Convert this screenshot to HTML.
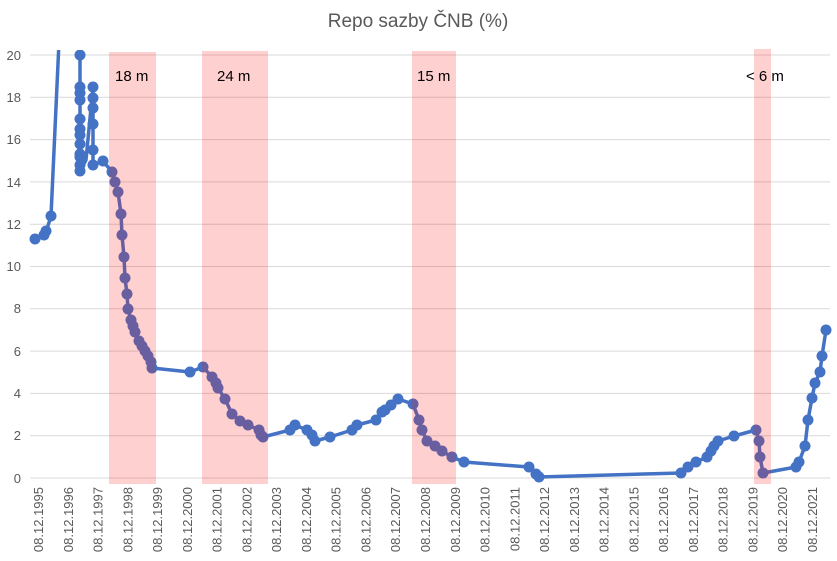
<!DOCTYPE html>
<html><head><meta charset="utf-8"><style>html,body{margin:0;padding:0;background:#fff}svg{display:block}</style></head><body>
<svg width="837" height="561" xmlns="http://www.w3.org/2000/svg" font-family="Liberation Sans, sans-serif">
<text x="418" y="27" text-anchor="middle" font-size="19" fill="#595959">Repo sazby ČNB (%)</text>
<g stroke="#d9d9d9" stroke-width="1">
<line x1="30" x2="830" y1="478" y2="478"/><line x1="30" x2="830" y1="435.7" y2="435.7"/><line x1="30" x2="830" y1="393.4" y2="393.4"/><line x1="30" x2="830" y1="351.1" y2="351.1"/><line x1="30" x2="830" y1="308.8" y2="308.8"/><line x1="30" x2="830" y1="266.5" y2="266.5"/><line x1="30" x2="830" y1="224.2" y2="224.2"/><line x1="30" x2="830" y1="181.9" y2="181.9"/><line x1="30" x2="830" y1="139.6" y2="139.6"/><line x1="30" x2="830" y1="97.3" y2="97.3"/><line x1="30" x2="830" y1="55" y2="55"/>
</g>
<g font-size="13" fill="#595959" text-anchor="end">
<text x="21" y="483">0</text><text x="21" y="440">2</text><text x="21" y="398">4</text><text x="21" y="356">6</text><text x="21" y="313">8</text><text x="21" y="271">10</text><text x="21" y="229">12</text><text x="21" y="187">14</text><text x="21" y="144">16</text><text x="21" y="102">18</text><text x="21" y="60">20</text>
</g>
<g font-size="13" fill="#595959" text-anchor="end" id="xl"></g>
<g font-size="13" fill="#595959" text-anchor="end">
<text transform="translate(43,487) rotate(-90)">08.12.1995</text>
<text transform="translate(72.8,487) rotate(-90)">08.12.1996</text>
<text transform="translate(102.5,487) rotate(-90)">08.12.1997</text>
<text transform="translate(132.3,487) rotate(-90)">08.12.1998</text>
<text transform="translate(162.1,487) rotate(-90)">08.12.1999</text>
<text transform="translate(191.9,487) rotate(-90)">08.12.2000</text>
<text transform="translate(221.6,487) rotate(-90)">08.12.2001</text>
<text transform="translate(251.4,487) rotate(-90)">08.12.2002</text>
<text transform="translate(281.2,487) rotate(-90)">08.12.2003</text>
<text transform="translate(310.9,487) rotate(-90)">08.12.2004</text>
<text transform="translate(340.7,487) rotate(-90)">08.12.2005</text>
<text transform="translate(370.5,487) rotate(-90)">08.12.2006</text>
<text transform="translate(400.2,487) rotate(-90)">08.12.2007</text>
<text transform="translate(430,487) rotate(-90)">08.12.2008</text>
<text transform="translate(459.8,487) rotate(-90)">08.12.2009</text>
<text transform="translate(489.6,487) rotate(-90)">08.12.2010</text>
<text transform="translate(519.3,487) rotate(-90)">08.12.2011</text>
<text transform="translate(549.1,487) rotate(-90)">08.12.2012</text>
<text transform="translate(578.9,487) rotate(-90)">08.12.2013</text>
<text transform="translate(608.6,487) rotate(-90)">08.12.2014</text>
<text transform="translate(638.4,487) rotate(-90)">08.12.2015</text>
<text transform="translate(668.2,487) rotate(-90)">08.12.2016</text>
<text transform="translate(697.9,487) rotate(-90)">08.12.2017</text>
<text transform="translate(727.7,487) rotate(-90)">08.12.2018</text>
<text transform="translate(757.5,487) rotate(-90)">08.12.2019</text>
<text transform="translate(787.2,487) rotate(-90)">08.12.2020</text>
<text transform="translate(817,487) rotate(-90)">08.12.2021</text>
</g>
<defs><clipPath id="c"><rect x="25" y="50" width="812" height="440"/></clipPath></defs>
<g clip-path="url(#c)">
<polyline fill="none" stroke="#4472C4" stroke-width="3.5" stroke-linejoin="round" points="35,239 44,235 46,231 47,229 51,216 60,20 78,20 80,55 80,87 80,93 80,100 80,119 80,129 80,135 80,144 80,154 80,157 80,165 80,171 86,160 93,87 93,98 93,108 93,124 93,150 93,165 103,161 112,172 115,182 118,192 121,214 122,235 124,257 125,278 127,294 128,309 131,320 133,326 135,332 139,341 142,346 145,351 148,356 151,362 152,368 190,372 203,367 212,377 216,383 218,388 225,399 232,414 240,421 248,425 259,430 261,435 263,437 290,430 295,425 307,430 312,435 315,441 330,437 352,430 357,425 376,420 382,412 385,410 391,405 398,399 413,404 419,420 422,430 427,441 435,446 442,451 452,457 464,462 529,467 536,474 539,477 681,473 688,467 696,462 707,457 711,451 714,446 718,441 734,436 756,430 759,441 760,457 763,473 796,467 799,462 805,446 808,420 812,398 815,383 820,372 822,356 826,330"/>
<g fill="#4472C4">
<circle cx="35" cy="239" r="5.5"/><circle cx="44" cy="235" r="5.5"/><circle cx="46" cy="231" r="5.5"/><circle cx="51" cy="216" r="5.5"/>
<circle cx="80" cy="55" r="5.5"/><circle cx="80" cy="87" r="5.5"/><circle cx="80" cy="93" r="5.5"/><circle cx="80" cy="100" r="5.5"/><circle cx="80" cy="119" r="5.5"/><circle cx="80" cy="129" r="5.5"/><circle cx="80" cy="135" r="5.5"/><circle cx="80" cy="144" r="5.5"/><circle cx="80" cy="154" r="5.5"/><circle cx="80" cy="157" r="5.5"/><circle cx="80" cy="165" r="5.5"/><circle cx="80" cy="171" r="5.5"/>
<circle cx="93" cy="87" r="5.5"/><circle cx="93" cy="98" r="5.5"/><circle cx="93" cy="108" r="5.5"/><circle cx="93" cy="124" r="5.5"/><circle cx="93" cy="150" r="5.5"/><circle cx="93" cy="165" r="5.5"/>
<circle cx="103" cy="161" r="5.5"/><circle cx="112" cy="172" r="5.5"/><circle cx="115" cy="182" r="5.5"/><circle cx="118" cy="192" r="5.5"/><circle cx="121" cy="214" r="5.5"/><circle cx="122" cy="235" r="5.5"/><circle cx="124" cy="257" r="5.5"/><circle cx="125" cy="278" r="5.5"/><circle cx="127" cy="294" r="5.5"/><circle cx="128" cy="309" r="5.5"/><circle cx="131" cy="320" r="5.5"/><circle cx="133" cy="326" r="5.5"/><circle cx="135" cy="332" r="5.5"/><circle cx="139" cy="341" r="5.5"/><circle cx="142" cy="346" r="5.5"/><circle cx="145" cy="351" r="5.5"/><circle cx="148" cy="356" r="5.5"/><circle cx="151" cy="362" r="5.5"/><circle cx="152" cy="368" r="5.5"/>
<circle cx="190" cy="372" r="5.5"/><circle cx="203" cy="367" r="5.5"/><circle cx="212" cy="377" r="5.5"/><circle cx="216" cy="383" r="5.5"/><circle cx="218" cy="388" r="5.5"/><circle cx="225" cy="399" r="5.5"/><circle cx="232" cy="414" r="5.5"/><circle cx="240" cy="421" r="5.5"/><circle cx="248" cy="425" r="5.5"/><circle cx="259" cy="430" r="5.5"/><circle cx="261" cy="435" r="5.5"/><circle cx="263" cy="437" r="5.5"/>
<circle cx="290" cy="430" r="5.5"/><circle cx="295" cy="425" r="5.5"/><circle cx="307" cy="430" r="5.5"/><circle cx="312" cy="435" r="5.5"/><circle cx="315" cy="441" r="5.5"/><circle cx="330" cy="437" r="5.5"/><circle cx="352" cy="430" r="5.5"/><circle cx="357" cy="425" r="5.5"/><circle cx="376" cy="420" r="5.5"/><circle cx="382" cy="412" r="5.5"/><circle cx="385" cy="410" r="5.5"/><circle cx="391" cy="405" r="5.5"/><circle cx="398" cy="399" r="5.5"/>
<circle cx="413" cy="404" r="5.5"/><circle cx="419" cy="420" r="5.5"/><circle cx="422" cy="430" r="5.5"/><circle cx="427" cy="441" r="5.5"/><circle cx="435" cy="446" r="5.5"/><circle cx="442" cy="451" r="5.5"/><circle cx="452" cy="457" r="5.5"/><circle cx="464" cy="462" r="5.5"/>
<circle cx="529" cy="467" r="5.5"/><circle cx="536" cy="474" r="5.5"/><circle cx="539" cy="477" r="5.5"/>
<circle cx="681" cy="473" r="5.5"/><circle cx="688" cy="467" r="5.5"/><circle cx="696" cy="462" r="5.5"/><circle cx="707" cy="457" r="5.5"/><circle cx="711" cy="451" r="5.5"/><circle cx="714" cy="446" r="5.5"/><circle cx="718" cy="441" r="5.5"/><circle cx="734" cy="436" r="5.5"/><circle cx="756" cy="430" r="5.5"/><circle cx="759" cy="441" r="5.5"/><circle cx="760" cy="457" r="5.5"/><circle cx="763" cy="473" r="5.5"/>
<circle cx="796" cy="467" r="5.5"/><circle cx="799" cy="462" r="5.5"/><circle cx="805" cy="446" r="5.5"/><circle cx="808" cy="420" r="5.5"/><circle cx="812" cy="398" r="5.5"/><circle cx="815" cy="383" r="5.5"/><circle cx="820" cy="372" r="5.5"/><circle cx="822" cy="356" r="5.5"/><circle cx="826" cy="330" r="5.5"/>
</g>
</g>
<g fill="rgb(255,20,20)" fill-opacity="0.2">
<rect x="109" y="52" width="47" height="432"/>
<rect x="202" y="51" width="66" height="433"/>
<rect x="412" y="51" width="44" height="433"/>
<rect x="754" y="49" width="17" height="435"/>
</g>
<g font-size="15" fill="#000">
<text x="115" y="81">18 m</text>
<text x="217" y="81">24 m</text>
<text x="417" y="81">15 m</text>
<text x="746" y="81">&lt; 6 m</text>
</g>
</svg>
</body></html>
